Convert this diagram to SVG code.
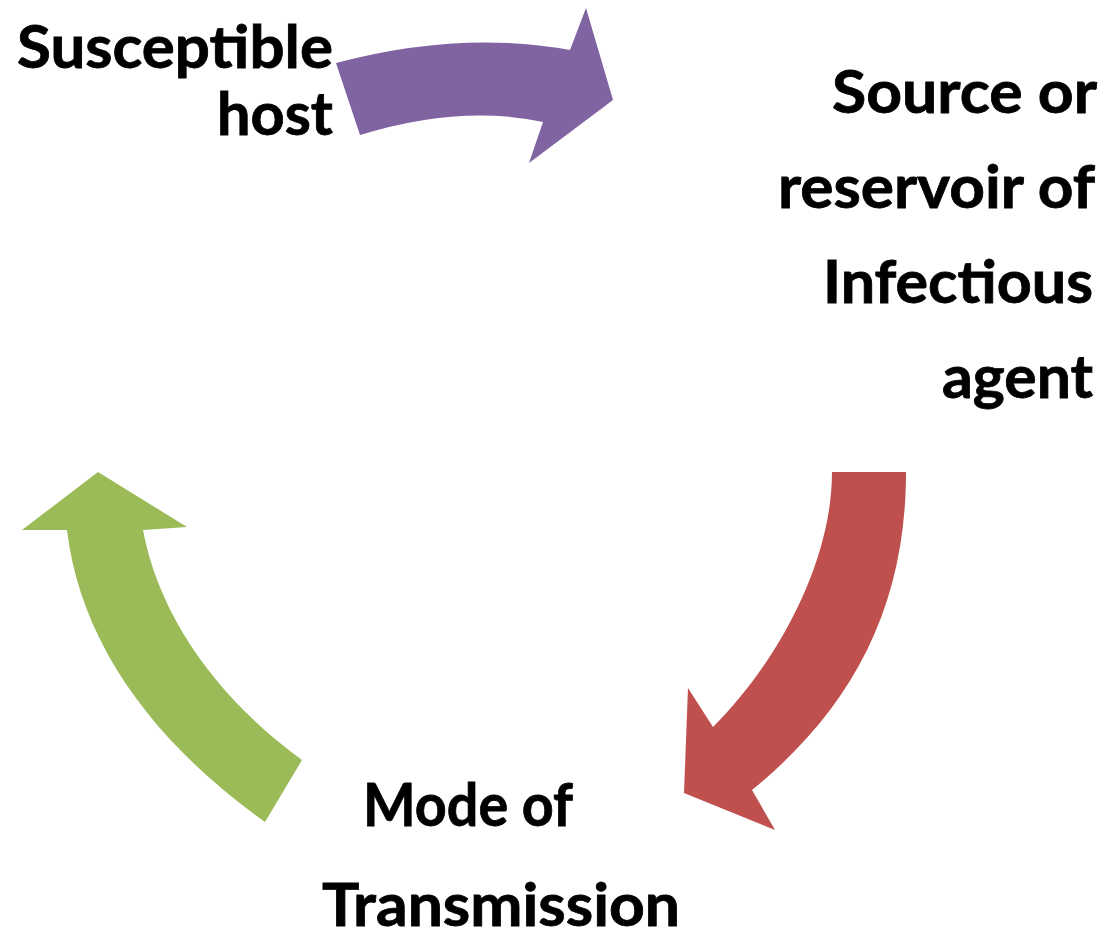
<svg xmlns="http://www.w3.org/2000/svg" width="1106" height="936" viewBox="0 0 1106 936">
<style>
.lbl{font-family:Lato,"Open Sans","Liberation Sans",sans-serif;font-weight:700;font-size:60px;fill:#000;stroke:#000;stroke-width:0.8px}
</style>
<rect width="1106" height="936" fill="#fff"/>
<g id="connectors">
<path id="arrow-purple" fill="#8064A2" d="M336,63 Q460,30 570,50 L586,8 L613,100 L529,163 L543,122 Q460,104 360,135 Z"/>
<path id="arrow-red" fill="#C0504D" d="M832,472 L906,472 C906,610 850,710 752,790 L775,830 L684,793 L688,688 L713,727 C780,660 832,560 832,472 Z"/>
<path id="arrow-green" fill="#9BBB59" d="M98,472 L187,527 L143,530 C160,620 220,700 302,760 L265,822 C150,740 80,640 67,530 L22,530 Z"/>
</g>
<g id="node-susceptible">
<text class="lbl" x="17" y="68" textLength="316" lengthAdjust="spacingAndGlyphs">Susceptible</text>
<text class="lbl" x="217" y="135" textLength="116" lengthAdjust="spacingAndGlyphs">host</text>
</g>
<g id="node-source">
<text class="lbl" x="832" y="113" textLength="265" lengthAdjust="spacingAndGlyphs">Source or</text>
<text class="lbl" x="778" y="208" textLength="317" lengthAdjust="spacingAndGlyphs">reservoir of</text>
<text class="lbl" x="823" y="303" textLength="270" lengthAdjust="spacingAndGlyphs">Infectious</text>
<text class="lbl" x="942" y="398" textLength="151" lengthAdjust="spacingAndGlyphs">agent</text>
</g>
<g id="node-mode">
<text class="lbl" x="363" y="826" textLength="210" lengthAdjust="spacingAndGlyphs">Mode of</text>
<text class="lbl" x="322" y="926" textLength="358" lengthAdjust="spacingAndGlyphs">Transmission</text>
</g>
</svg>
